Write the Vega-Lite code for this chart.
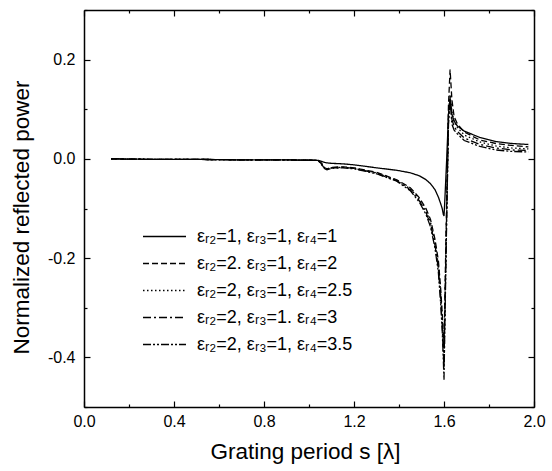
{
  "$schema": "https://vega.github.io/schema/vega-lite/v6.json",
  "width": 450,
  "height": 397,
  "autosize": {"type": "none"},
  "padding": {"left": 84, "top": 10, "right": 18, "bottom": 64},
  "background": "white",
  "config": {
    "view": {"stroke": null},
    "font": "Liberation Sans, DejaVu Sans",
    "axis": {"grid": false, "domainColor": "black", "domainWidth": 1.5, "tickColor": "black", "tickWidth": 1.2, "labelColor": "black", "titleColor": "black", "titleFontWeight": "normal", "labelFlush": false, "labelOverlap": false}
  },
  "datasets": {
    "series": [
      {"k": "a", "name": "εᵣ₂=1, εᵣ₃=1, εᵣ₄=1"},
      {"k": "b", "name": "εᵣ₂=2. εᵣ₃=1, εᵣ₄=2"},
      {"k": "c", "name": "εᵣ₂=2, εᵣ₃=1, εᵣ₄=2.5"},
      {"k": "d", "name": "εᵣ₂=2, εᵣ₃=1. εᵣ₄=3"},
      {"k": "e", "name": "εᵣ₂=2, εᵣ₃=1, εᵣ₄=3.5"}
    ],
    "curves": [
      {"s": 0.12, "a": 0, "b": 0, "c": 0, "d": 0, "e": 0},
      {"s": 0.3, "a": -0.001, "b": -0.001, "c": -0.001, "d": -0.001, "e": -0.001},
      {"s": 0.5, "a": -0.001, "b": -0.001, "c": -0.001, "d": -0.001, "e": -0.001},
      {"s": 0.7, "a": -0.002, "b": -0.002, "c": -0.002, "d": -0.002, "e": -0.002},
      {"s": 0.9, "a": -0.002, "b": -0.002, "c": -0.002, "d": -0.002, "e": -0.002},
      {"s": 1.04, "a": -0.003, "b": -0.003, "c": -0.003, "d": -0.003, "e": -0.003},
      {"s": 1.055, "a": -0.005, "b": -0.008, "c": -0.009, "d": -0.01, "e": -0.011},
      {"s": 1.07, "a": -0.007, "b": -0.018, "c": -0.019, "d": -0.02, "e": -0.02},
      {"s": 1.08, "a": -0.008, "b": -0.02, "c": -0.021, "d": -0.021, "e": -0.022},
      {"s": 1.1, "a": -0.009, "b": -0.017, "c": -0.018, "d": -0.018, "e": -0.019},
      {"s": 1.15, "a": -0.01, "b": -0.016, "c": -0.017, "d": -0.017, "e": -0.018},
      {"s": 1.2, "a": -0.012, "b": -0.018, "c": -0.019, "d": -0.019, "e": -0.02},
      {"s": 1.3, "a": -0.018, "b": -0.027, "c": -0.028, "d": -0.029, "e": -0.03},
      {"s": 1.39, "a": -0.023, "b": -0.042, "c": -0.043, "d": -0.044, "e": -0.045},
      {"s": 1.45, "a": -0.028, "b": -0.058, "c": -0.06, "d": -0.062, "e": -0.064},
      {"s": 1.49, "a": -0.034, "b": -0.078, "c": -0.081, "d": -0.084, "e": -0.087},
      {"s": 1.52, "a": -0.042, "b": -0.1, "c": -0.104, "d": -0.108, "e": -0.112},
      {"s": 1.54, "a": -0.05, "b": -0.122, "c": -0.127, "d": -0.132, "e": -0.137},
      {"s": 1.56, "a": -0.062, "b": -0.162, "c": -0.168, "d": -0.174, "e": -0.18},
      {"s": 1.575, "a": -0.077, "b": -0.205, "c": -0.213, "d": -0.221, "e": -0.229},
      {"s": 1.585, "a": -0.09, "b": -0.26, "c": -0.27, "d": -0.28, "e": -0.29},
      {"s": 1.592, "a": -0.1, "b": -0.31, "c": -0.322, "d": -0.334, "e": -0.346},
      {"s": 1.597, "a": -0.112, "b": -0.355, "c": -0.372, "d": -0.39, "e": -0.405},
      {"s": 1.6, "a": -0.115, "b": -0.38, "c": -0.4, "d": -0.42, "e": -0.445},
      {"s": 1.603, "a": -0.09, "b": -0.3, "c": -0.32, "d": -0.34, "e": -0.36},
      {"s": 1.612, "a": 0.0, "b": -0.08, "c": -0.1, "d": -0.11, "e": -0.12},
      {"s": 1.62, "a": 0.09, "b": 0.11, "c": 0.09, "d": 0.08, "e": 0.07},
      {"s": 1.627, "a": 0.122, "b": 0.18, "c": 0.13, "d": 0.125, "e": 0.12},
      {"s": 1.635, "a": 0.09, "b": 0.12, "c": 0.095, "d": 0.08, "e": 0.07},
      {"s": 1.645, "a": 0.076, "b": 0.085, "c": 0.075, "d": 0.065, "e": 0.058},
      {"s": 1.66, "a": 0.066, "b": 0.07, "c": 0.063, "d": 0.055, "e": 0.05},
      {"s": 1.69, "a": 0.056, "b": 0.054, "c": 0.048, "d": 0.042, "e": 0.037},
      {"s": 1.76, "a": 0.043, "b": 0.038, "c": 0.034, "d": 0.029, "e": 0.025},
      {"s": 1.83, "a": 0.035, "b": 0.031, "c": 0.026, "d": 0.022, "e": 0.018},
      {"s": 1.9, "a": 0.031, "b": 0.027, "c": 0.022, "d": 0.018, "e": 0.015},
      {"s": 1.975, "a": 0.029, "b": 0.024, "c": 0.02, "d": 0.017, "e": 0.014}
    ]
  },
  "data": {"name": "curves"},
  "transform": [
    {"fold": ["a", "b", "c", "d", "e"], "as": ["k", "p"]},
    {"lookup": "k", "from": {"data": {"name": "series"}, "key": "k", "fields": ["name"]}}
  ],
  "layer": [
    {
      "mark": {"type": "line", "color": "black", "strokeWidth": 1.3},
      "encoding": {
        "x": {
          "field": "s", "type": "quantitative",
          "scale": {"domain": [0, 2], "nice": false, "zero": false},
          "axis": {
            "orient": "bottom",
            "values": [0, 0.2, 0.4, 0.6, 0.8, 1.0, 1.2, 1.4, 1.6, 1.8, 2.0],
            "labelExpr": "round(datum.value*10)%4==0 ? format(datum.value,'.1f') : ''",
            "tickSize": {"condition": {"test": "round(datum.value*10)%4==0", "value": -6}, "value": -3},
            "labelFontSize": 16,
            "labelPadding": 12,
            "title": "Grating period s [λ]",
            "titleFontSize": 22.5,
            "titleBaseline": "alphabetic",
            "titleX": 221,
            "titleY": 51
          }
        },
        "y": {
          "field": "p", "type": "quantitative",
          "scale": {"domain": [-0.5, 0.3], "nice": false, "zero": false},
          "axis": {
            "orient": "left",
            "values": [-0.5, -0.4, -0.3, -0.2, -0.1, 0, 0.1, 0.2, 0.3],
            "labelExpr": "round(datum.value*10)%2==0 ? replace(format(datum.value,'.1f'),'\u2212','-') : ''",
            "tickSize": {"condition": {"test": "round(datum.value*10)%2==0", "value": -6}, "value": -3},
            "labelFontSize": 16,
            "labelPadding": 15,
            "title": "Normalized reflected power",
            "titleFontSize": 22.5,
            "titleBaseline": "alphabetic",
            "titleX": -56,
            "titleY": 207
          }
        },
        "strokeDash": {
          "field": "name", "type": "nominal",
          "scale": {
            "domain": ["εᵣ₂=1, εᵣ₃=1, εᵣ₄=1", "εᵣ₂=2. εᵣ₃=1, εᵣ₄=2", "εᵣ₂=2, εᵣ₃=1, εᵣ₄=2.5", "εᵣ₂=2, εᵣ₃=1. εᵣ₄=3", "εᵣ₂=2, εᵣ₃=1, εᵣ₄=3.5"],
            "range": [[1, 0], [6, 3], [1.5, 2.5], [8, 3, 2, 3], [8, 2, 2, 2, 2, 2]]
          },
          "legend": {
            "orient": "none",
            "legendX": 69,
            "legendY": 215,
            "title": null,
            "symbolType": "M-2,0H2",
            "symbolSize": 462,
            "symbolStrokeColor": "black",
            "symbolStrokeWidth": 1.3,
            "labelFontSize": 18,
            "labelColor": "black",
            "labelOffset": 21,
            "rowPadding": 6
          }
        }
      }
    },
    {
      "mark": {"type": "point", "opacity": 0},
      "encoding": {
        "x": {
          "field": "s", "type": "quantitative",
          "axis": {
            "orient": "top",
            "values": [0, 0.2, 0.4, 0.6, 0.8, 1.0, 1.2, 1.4, 1.6, 1.8, 2.0],
            "labels": false,
            "title": null,
            "tickSize": {"condition": {"test": "round(datum.value*10)%4==0", "value": -6}, "value": -3}
          }
        },
        "y": {
          "field": "p", "type": "quantitative",
          "axis": {
            "orient": "right",
            "values": [-0.5, -0.4, -0.3, -0.2, -0.1, 0, 0.1, 0.2, 0.3],
            "labels": false,
            "title": null,
            "tickSize": {"condition": {"test": "round(datum.value*10)%2==0", "value": -6}, "value": -3}
          }
        }
      }
    }
  ],
  "resolve": {"axis": {"x": "independent", "y": "independent"}}
}
